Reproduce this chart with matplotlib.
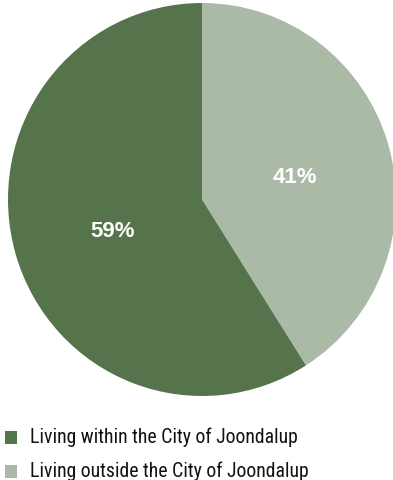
import numpy as np
import matplotlib.pyplot as plt
from matplotlib.patches import Rectangle
from matplotlib.transforms import offset_copy

# residence share of respondents
labels = ['Living outside the City of Joondalup', 'Living within the City of Joondalup']
shares = [41, 59]
colors = ['#abbaa6', '#56744b']

fig = plt.figure(figsize=(3.93, 4.8), dpi=100)
ax = fig.add_axes([8/393, 84/480, 388/393, 393/480])

wedges, texts = ax.pie(shares, colors=colors, startangle=90, counterclock=False)
ax.set_xlim(-1, 1)
ax.set_ylim(-1, 1)
ax.set_aspect('auto')

# percentage labels inside each wedge
lbl_trans = offset_copy(ax.transData, fig=fig, x=1.5, y=-5, units='dots')
for w, v in zip(wedges, shares):
    mid = np.deg2rad((w.theta1 + w.theta2) / 2)
    ax.text(0.49*np.cos(mid), 0.49*np.sin(mid), f'{v}%', ha='center', va='center',
            transform=lbl_trans, color='white', fontsize=16, fontweight='bold',
            family='Liberation Sans')

# legend: within first, outside second
rows = [(1, 437.5), (0, 471.5)]
for i, ypix in rows:
    y = 1 - ypix/480
    fig.patches.append(Rectangle((5/393, y - 6.5/480), 12/393, 13/480, transform=fig.transFigure,
                                 facecolor=colors[i], edgecolor='none'))
    fig.text(30/393, y, labels[i], va='center', ha='left', fontsize=14.2, color='#111111',
             family=['Roboto Condensed', 'DejaVu Sans'])

fig.savefig('out.png', dpi=100)
